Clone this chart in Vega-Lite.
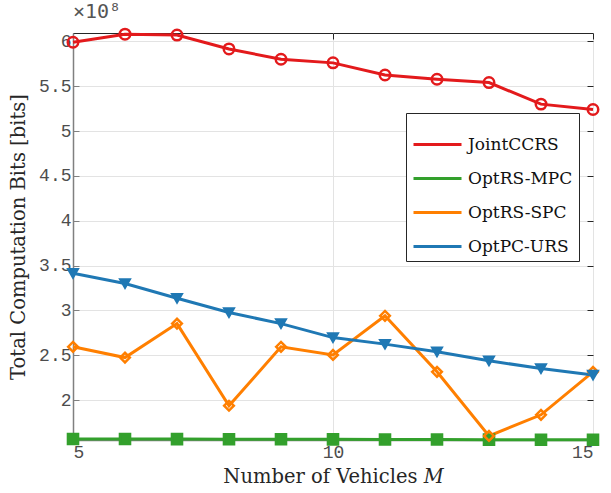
{
  "$schema": "https://vega.github.io/schema/vega-lite/v6.json",
  "width": 520,
  "height": 407,
  "autosize": {"type": "none"},
  "padding": {"left": 73, "top": 33, "right": 18, "bottom": 53},
  "background": "white",
  "title": {"text": "×10⁸", "anchor": "start", "frame": "group", "font": "DejaVu Sans Mono", "fontSize": 20, "fontWeight": "normal", "color": "#555555", "offset": 2, "dx": 0},
  "config": {
    "view": {"stroke": "#262626", "strokeWidth": 1},
    "axis": {"labelFont": "Liberation Mono", "labelFontSize": 18, "labelColor": "#4d4d4d", "titleFont": "DejaVu Serif", "titleFontSize": 19.5, "titleFontWeight": "normal", "titleColor": "#262626", "gridColor": "#e3e3e3", "gridWidth": 1, "domainColor": "#808080", "domainWidth": 1.5, "tickColor": "#808080", "tickSize": -6}
  },
  "resolve": {"axis": {"x": "independent", "y": "independent"}},
  "data": {"values": [
    {"M": 5, "series": "JointCCRS", "value": 5.99},
    {"M": 6, "series": "JointCCRS", "value": 6.08},
    {"M": 7, "series": "JointCCRS", "value": 6.07},
    {"M": 8, "series": "JointCCRS", "value": 5.915},
    {"M": 9, "series": "JointCCRS", "value": 5.80},
    {"M": 10, "series": "JointCCRS", "value": 5.76},
    {"M": 11, "series": "JointCCRS", "value": 5.625},
    {"M": 12, "series": "JointCCRS", "value": 5.577},
    {"M": 13, "series": "JointCCRS", "value": 5.54},
    {"M": 14, "series": "JointCCRS", "value": 5.30},
    {"M": 15, "series": "JointCCRS", "value": 5.24},
    {"M": 5, "series": "OptRS-MPC", "value": 1.567},
    {"M": 6, "series": "OptRS-MPC", "value": 1.566},
    {"M": 7, "series": "OptRS-MPC", "value": 1.565},
    {"M": 8, "series": "OptRS-MPC", "value": 1.564},
    {"M": 9, "series": "OptRS-MPC", "value": 1.563},
    {"M": 10, "series": "OptRS-MPC", "value": 1.562},
    {"M": 11, "series": "OptRS-MPC", "value": 1.561},
    {"M": 12, "series": "OptRS-MPC", "value": 1.56},
    {"M": 13, "series": "OptRS-MPC", "value": 1.559},
    {"M": 14, "series": "OptRS-MPC", "value": 1.558},
    {"M": 15, "series": "OptRS-MPC", "value": 1.557},
    {"M": 5, "series": "OptRS-SPC", "value": 2.594},
    {"M": 6, "series": "OptRS-SPC", "value": 2.474},
    {"M": 7, "series": "OptRS-SPC", "value": 2.853},
    {"M": 8, "series": "OptRS-SPC", "value": 1.937},
    {"M": 9, "series": "OptRS-SPC", "value": 2.594},
    {"M": 10, "series": "OptRS-SPC", "value": 2.504},
    {"M": 11, "series": "OptRS-SPC", "value": 2.94},
    {"M": 12, "series": "OptRS-SPC", "value": 2.315},
    {"M": 13, "series": "OptRS-SPC", "value": 1.60},
    {"M": 14, "series": "OptRS-SPC", "value": 1.836},
    {"M": 15, "series": "OptRS-SPC", "value": 2.315},
    {"M": 5, "series": "OptPC-URS", "value": 3.414},
    {"M": 6, "series": "OptPC-URS", "value": 3.30},
    {"M": 7, "series": "OptPC-URS", "value": 3.136},
    {"M": 8, "series": "OptPC-URS", "value": 2.976},
    {"M": 9, "series": "OptPC-URS", "value": 2.853},
    {"M": 10, "series": "OptPC-URS", "value": 2.697},
    {"M": 11, "series": "OptPC-URS", "value": 2.624},
    {"M": 12, "series": "OptPC-URS", "value": 2.538},
    {"M": 13, "series": "OptPC-URS", "value": 2.438},
    {"M": 14, "series": "OptPC-URS", "value": 2.352},
    {"M": 15, "series": "OptPC-URS", "value": 2.28}
  ]},
  "encoding": {
    "x": {"field": "M", "type": "quantitative", "scale": {"domain": [5, 15], "nice": false}},
    "y": {"field": "value", "type": "quantitative", "scale": {"domain": [1.555, 6.093], "nice": false, "zero": false}}
  },
  "layer": [
    {
      "mark": {"type": "line", "strokeWidth": 3, "clip": false},
      "encoding": {
        "x": {"field": "M", "type": "quantitative", "axis": {"values": [5, 10, 15], "title": "Number of Vehicles 𝑀", "labelPadding": 9, "titlePadding": 6, "grid": true}},
        "y": {"field": "value", "type": "quantitative", "axis": {"values": [2, 2.5, 3, 3.5, 4, 4.5, 5, 5.5, 6], "format": ".2~f", "title": "Total Computation Bits [bits]", "labelPadding": 8, "titlePadding": 10, "grid": true}},
        "color": {"field": "series", "type": "nominal", "sort": ["JointCCRS", "OptRS-MPC", "OptRS-SPC", "OptPC-URS"],
          "scale": {"range": ["#e31a1c", "#33a02c", "#ff7f00", "#1f78b4"]},
          "legend": {
            "orient": "none", "legendX": 333, "legendY": 80, "title": null, "zindex": 1,
            "labelFont": "DejaVu Serif", "labelFontSize": 17, "labelColor": "#111111",
            "symbolType": "stroke", "symbolSize": 2304, "symbolStrokeWidth": 3, "rowPadding": -12, "labelOffset": 5,
            "padding": 6, "strokeColor": "#262626", "fillColor": "white"
          }}
      }
    },
    {
      "mark": {"type": "point", "filled": false, "strokeWidth": 2.5, "opacity": 1, "clip": false},
      "encoding": {
        "x": {"field": "M", "type": "quantitative", "axis": {"orient": "top", "values": [5, 10, 15], "labels": false, "grid": false, "domain": false, "title": null, "tickColor": "#262626"}},
        "y": {"field": "value", "type": "quantitative", "axis": {"orient": "right", "values": [2, 2.5, 3, 3.5, 4, 4.5, 5, 5.5, 6], "labels": false, "grid": false, "domain": false, "title": null, "tickColor": "#262626"}},
        "stroke": {"field": "series", "type": "nominal",
          "scale": {"domain": ["JointCCRS", "OptRS-MPC", "OptRS-SPC", "OptPC-URS"], "range": ["#e31a1c", "#33a02c", "#ff7f00", "#1f78b4"]},
          "legend": {
            "orient": "none", "legendX": 349, "legendY": 93, "title": null, "zindex": 2,
            "labelFont": "DejaVu Serif", "labelFontSize": 17, "labelColor": "transparent",
            "symbolSize": 90, "symbolStrokeWidth": 2.5, "rowPadding": 4, "labelOffset": 5,
            "padding": 6, "strokeColor": "transparent", "fillColor": "transparent"
          }},
        "shape": {"field": "series", "type": "nominal",
          "scale": {"domain": ["JointCCRS", "OptRS-MPC", "OptRS-SPC", "OptPC-URS"], "range": ["circle", "square", "diamond", "triangle-down"]},
          "legend": {
            "orient": "none", "legendX": 349, "legendY": 93, "title": null, "zindex": 2,
            "labelFont": "DejaVu Serif", "labelFontSize": 17, "labelColor": "transparent",
            "symbolSize": 90, "symbolStrokeWidth": 2.5, "rowPadding": 4, "labelOffset": 5,
            "padding": 6, "strokeColor": "transparent", "fillColor": "transparent"
          }},
        "fill": {"field": "series", "type": "nominal",
          "scale": {"domain": ["JointCCRS", "OptRS-MPC", "OptRS-SPC", "OptPC-URS"], "range": ["transparent", "#33a02c", "transparent", "#1f78b4"]},
          "legend": {
            "orient": "none", "legendX": 349, "legendY": 93, "title": null, "zindex": 2,
            "labelFont": "DejaVu Serif", "labelFontSize": 17, "labelColor": "transparent",
            "symbolSize": 90, "symbolStrokeWidth": 2.5, "rowPadding": 4, "labelOffset": 5,
            "padding": 6, "strokeColor": "transparent", "fillColor": "transparent"
          }},
        "size": {"field": "series", "type": "nominal", "legend": null,
          "scale": {"domain": ["JointCCRS", "OptRS-MPC", "OptRS-SPC", "OptPC-URS"], "range": [110, 85, 130, 160]}}
      }
    }
  ]
}
